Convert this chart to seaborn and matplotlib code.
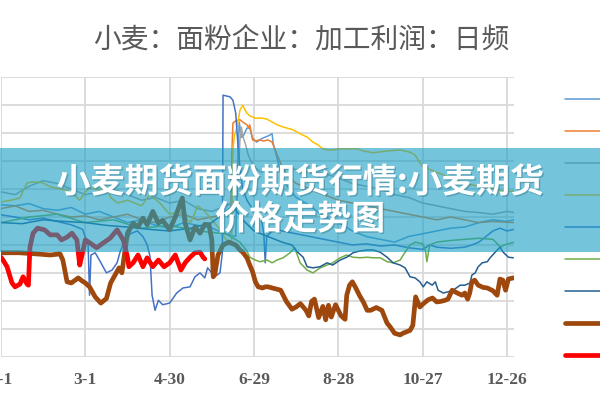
import matplotlib
matplotlib.use('Agg')
import matplotlib.pyplot as plt
import matplotlib.patheffects as pe
import seaborn as sns
from matplotlib.patches import Rectangle

# ---------------------------------------------------------------
# data (x = day of year, y = profit units)
# ---------------------------------------------------------------
days1 = [0, 10, 20, 30, 40, 50, 60, 70, 80, 90, 100, 110, 120, 130, 140, 150, 160, 167, 168, 169.5,
         171, 172, 175, 177, 179, 182, 184, 186, 190, 192.9, 193.6, 195, 198, 200, 205, 210, 220, 230, 240, 250,
         260, 270, 280, 290, 300, 310, 320, 330, 340, 350, 360, 365]
vals1 = [-28, -30, -26, -35, -38, -33, -45, -40, -50, -60, -55, -65, -70, -60, -65, -70, -80, -85, 20, 120,
         93, 93, 109, 109, 91, 84, 88, 91, 95, 99, 82, 70, 40, 20, 0, -15, -30, -50, -60, -75,
         -85, -90, -95, -85, -80, -75, -70, -68, -60, -55, -58, -55]

days2 = [0, 10, 20, 30, 40, 50, 60, 70, 80, 90, 100, 110, 120, 130, 140, 150, 160,
         163.5, 164.4, 165, 167, 170, 172, 175, 176, 177, 179, 181, 184, 187, 190, 192.9, 195,
         200, 205, 210, 220, 230, 240, 250, 260, 270, 280, 290, 300, 310, 320, 330, 340, 350, 365]
vals2 = [-35, -30, -40, -38, -45, -50, -48, -55, -50, -45, -55, -60, -50, -45, -55, -50, -45,
         -40, 75, 118, 122, 124, 120, 115, 110, 115, 88, 86, 88, 86, 88, 84, 70,
         40, 20, 10, 0, -10, -20, -25, -30, -35, -40, -45, -50, -55, -50, -55, -60, -58, -60]

days3 = [0, 10, 20, 30, 40, 50, 60, 70, 80, 90, 100, 110, 120, 130, 140, 150, 160,
         168, 170, 171, 172, 174, 176, 180, 185, 190, 195, 200,
         210, 220, 230, 240, 250, 260, 270, 280, 290, 300, 310, 320, 330, 340, 350, 360, 365]
vals3 = [-5, -10, 5, 15, 10, 0, -10, -5, 0, -10, -20, -15, -25, -20, -35, -40, -30,
         -20, 88, 111, 95, 80, 60, 40, 30, 35, 40, 38,
         35, 30, 28, 20, 10, 5, 0, -10, -15, -25, -30, -35, -40, -42, -45, -40, -42]

days4 = [0, 7, 13.5, 18.5, 22.8, 30, 35, 42, 47, 52, 56, 60, 63, 70, 75, 78, 83, 90, 100, 106,
         113, 120, 127, 135, 140, 145, 150, 155, 160, 164, 165, 166, 168, 170, 172, 173.7, 175, 177, 180.8, 185.8,
         189.3, 192.9, 196.4, 200.7, 203.6, 207.8, 212.8, 217.8, 222, 225.6, 229, 232.7, 236, 241.3, 248.4, 253.4,
         258, 265, 274, 284, 291, 294.6, 296.8, 300, 310, 320, 330, 340, 350, 360, 365]
vals4 = [-23, -20, -16, 11, 13, 11, 4, 0, -2, -10, -20, -5, 2, -2, 5, -15, -25, -20, -30, -10,
         -25, -45, -40, -60, -30, -40, -55, -70, -90, -95, 70, 95, 111, 141, 150, 141, 136, 131, 127, 127,
         125, 120, 115, 111, 109, 106, 99, 93, 84, 79, 72, 70, 70, 72, 72, 72,
         68, 65, 68, 70, 66, 61, 52, 40, 30, 20, 10, 5, 0, -5, -3]

days5 = [0, 10, 20, 30, 40, 50, 58, 62, 63, 64, 67, 70, 75, 79, 82.6, 85, 88, 92, 97, 101,
         104, 106, 107.5, 109.6, 112, 115, 120, 125, 129.5, 134.5, 138, 141.6, 145, 147, 150, 153.7, 155.8, 157.5,
         158, 163, 165, 167, 168.7, 170, 172, 175, 180, 185, 187, 188, 189, 195, 200, 210, 220, 230, 240, 250,
         260, 270, 280, 290, 300, 305, 310, 320, 330, 335, 340, 345, 350, 355, 360, 365]
vals5 = [-46, -50, -55, -52, -58, -64, -72, -100, -190, -118, -114, -127, -150, -145, -132, -110, -95, -80, -75, -85,
         -100, -120, -190, -217, -199, -207, -204, -186, -177, -175, -157, -150, -159, -141, -150, -154, -150, -114,
         168, 165, 159, 136, 75, 40, 0, -20, -40, -50, -80, -132, -85, -70, -75, -80, -85, -90, -95, -100,
         -98, -102, -100, -105, -108, -100, -104, -106, -104, -100, -95, -85, -75, -70, -75, -72]

days6 = [0, 20, 40, 60, 80, 100, 120, 140, 160, 170, 175, 177, 180.8, 184.3, 189.3, 192.9, 196.4, 200.7, 205.7, 209,
         212.8, 217.8, 222, 227, 232, 236, 241.3, 246, 250.5, 255.5, 260.5, 264.8, 269.8, 274.7, 279, 284, 287, 291,
         295, 300, 302, 303, 305, 310, 320, 330, 340, 350, 355.5, 358, 365]
vals6 = [-60, -50, -45, -60, -55, -70, -65, -75, -80, -95, -111, -122, -127, -130, -127, -132, -127, -123, -114, -105,
         -132, -145, -150, -141, -136, -132, -123, -118, -122, -123, -122, -123, -123, -130, -132, -127, -115, -100,
         -95, -98, -110, -130, -100, -95, -92, -90, -88, -90, -104, -100, -95]

days7 = [0, 15, 30, 45, 60, 75, 90, 105, 120, 135, 150, 160, 165, 172, 180, 190, 200, 207, 210.7, 215,
         217.8, 222, 227, 232, 236, 241.3, 246, 250.5, 255, 260.5, 264.8, 269.8, 274.7, 279, 284, 287.5, 291,
         294.6, 298, 300.4, 303, 306.8, 309, 311, 314.6, 318, 321.7, 326.7, 330, 333.8, 335, 337.4, 339.5,
         342.4, 346, 348, 351.6, 355, 357.3, 361, 364.5]
vals7 = [-60, -62, -55, -58, -60, -65, -68, -72, -75, -70, -60, -40, -30, -55, -75, -85, -95, -100, -112, -122,
         -139, -141, -139, -132, -136, -127, -122, -114, -111, -109, -109, -113, -122, -132, -136, -141, -157,
         -159, -166, -175, -166, -172, -166, -181, -186, -184, -181, -172, -172, -168, -154, -150, -139,
         -132, -130, -123, -113, -104, -113, -122, -123]

days8 = [0, 13, 25, 35, 42, 44, 47, 50, 55, 58, 60, 63, 67, 71, 75, 78, 82, 84, 86, 88,
         90, 94, 97.5, 101, 104, 108, 112, 115, 120, 124, 129, 131, 134.5, 138, 141.6, 145, 148, 150, 151, 152,
         154.4, 158, 162, 167, 170, 172, 175, 177, 179, 181, 183, 186, 188, 190, 193, 196, 199, 203, 207, 210,
         213, 217, 219, 221, 223, 226, 229, 231, 233, 235, 238, 240, 242, 244.8, 246, 248, 250, 252, 255, 258,
         260.5, 263, 267, 271, 274.7, 277, 280, 284, 286, 289, 291, 293, 295, 298, 301, 304, 307, 310, 313, 316,
         318, 321, 324.6, 328, 330, 332, 333.5, 335, 337, 339.5, 343, 346, 350, 353, 355, 357, 359, 361, 364.5]
vals8 = [-114, -114, -116, -118, -116, -127, -166, -168, -159, -165, -168, -175, -193, -204, -196, -168, -150, -141, -150, -114,
         -79, -61, -68, -52, -64, -40, -61, -56, -73, -50, -16, -61, -91, -68, -79, -63, -64, -91, -157, -154,
         -118, -100, -95, -100, -109, -113, -123, -136, -148, -166, -175, -177, -175, -175, -177, -179, -181, -201, -215, -211,
         -205, -217, -227, -201, -197, -230, -210, -234, -208, -229, -207, -217, -227, -233, -190, -172, -166, -175, -190, -203,
         -217, -217, -212, -217, -240, -247, -258, -261, -258, -255, -253, -244, -193, -211, -204, -198, -195, -202, -201, -199,
         -197, -181, -186, -190, -186, -197, -186, -166, -163, -172, -176, -177, -182, -190, -161, -163, -181, -161, -159]

days9 = [0, 1.4, 4.3, 7.8, 10, 13.5, 15.7, 18.5, 19.5, 20.6, 22.8, 26, 31, 35, 40, 43, 47, 50.5, 54, 55,
         56, 57, 60, 63, 68, 73, 77.6, 82.6, 87, 90, 91, 94, 97.5, 101, 104, 108, 112, 116, 120, 124,
         128, 131, 134.5, 138, 141.6, 143.8, 145]
vals9 = [-122, -127, -139, -168, -175, -170, -157, -170, -172, -104, -79, -70, -73, -82, -82, -91, -86, -79, -91, -114,
         -136, -125, -91, -96, -105, -96, -88, -73, -91, -122, -139, -132, -118, -139, -123, -139, -127, -139, -132, -118,
         -145, -132, -122, -114, -113, -122, -125]

tick_days = [0, 60, 120, 180, 240, 300, 360]
tick_labels = ['1-1', '3-1', '4-30', '6-29', '8-28', '10-27', '12-26']

title = '小麦：面粉企业：加工利润：日频'
banner_line1 = '小麦期货面粉期货行情:小麦期货'
banner_line2 = '价格走势图'

# (x, y, colour, line width) - Office palette, last two drawn thick
series = [
    (days1, vals1, '#5B9BD5', 1.1),
    (days2, vals2, '#ED7D31', 1.1),
    (days3, vals3, '#A5A5A5', 1.1),
    (days4, vals4, '#FFC000', 1.1),
    (days5, vals5, '#4472C4', 1.1),
    (days6, vals6, '#70AD47', 1.1),
    (days7, vals7, '#255E91', 1.1),
    (days8, vals8, '#9E480E', 3.4),
    (days9, vals9, '#FF0000', 3.4),
]

sns.set_style('white')
plt.rcParams['font.family'] = ['Noto Sans CJK SC', 'DejaVu Sans']

fig = plt.figure(figsize=(6, 4), dpi=100)
# plot area: x from px 1 to 514, y from px 77 to 357
ax = fig.add_axes([1 / 600, 1 - 356.7 / 400, 513 / 600, (356.7 - 77.3) / 400])

for d, v, c, lw in series:
    sns.lineplot(x=d, y=v, color=c, linewidth=lw, estimator=None, ax=ax)

ax.set_xlim(0, 365)
ax.set_ylim(-300, 200)
ax.set_xticks(tick_days)
ax.set_xticklabels(tick_labels)
ax.set_yticks(range(-300, 201, 50))
ax.set_yticklabels([])
ax.set_xlabel('')
ax.set_ylabel('')
ax.grid(True, color='#D9D9D9', linewidth=1.3)
ax.set_axisbelow(True)
for s in ax.spines.values():
    s.set_visible(False)
ax.tick_params(length=0, pad=11, labelcolor='#595959')
for lbl in ax.get_xticklabels():
    lbl.set_fontfamily('Liberation Serif')
    lbl.set_fontweight('bold')
    lbl.set_fontsize(12.5)

# legend on the right, labels cut off in the source
fig.legend(ax.lines[:len(series)], [' '] * len(series), loc='upper left',
           bbox_to_anchor=(565 / 600, 1 - 93.8 / 400), frameon=False, fontsize=10,
           handlelength=4, handleheight=1, labelspacing=1.29, borderpad=0,
           borderaxespad=0, handletextpad=0.2)

fig.text(301 / 600, 1 - 39.5 / 400, title, ha='center', va='center',
         fontsize=20, color='#595959')

# translucent banner with headline over the chart
fig.add_artist(Rectangle((0, 1 - 252 / 400), 1, 104 / 400, transform=fig.transFigure,
                         facecolor='#179EC3', alpha=0.6, edgecolor='none', zorder=10))
shadow = [pe.withSimplePatchShadow(offset=(1, -1), shadow_rgbFace='#3A7F92', alpha=0.5)]
fig.text(0.5, 1 - 182 / 400, banner_line1, ha='center', va='center', color='white',
         fontsize=24.5, fontweight='bold', zorder=11, path_effects=shadow)
fig.text(0.5, 1 - 219 / 400, banner_line2, ha='center', va='center', color='white',
         fontsize=24.5, fontweight='bold', zorder=11, path_effects=shadow)

fig.savefig('out.png', dpi=100)
